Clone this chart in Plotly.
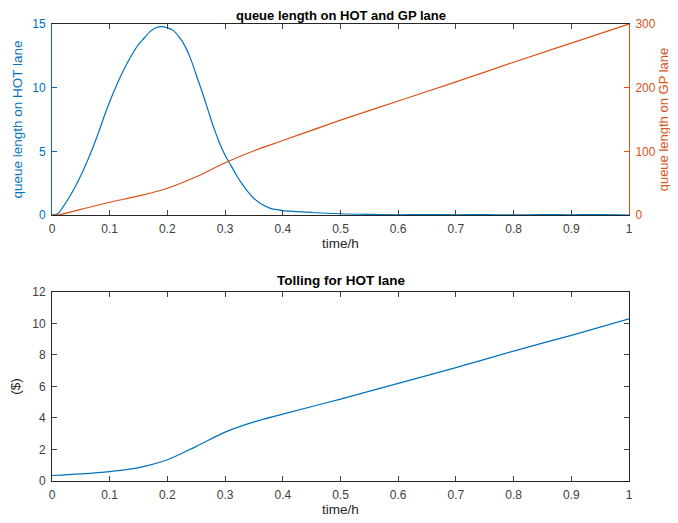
import plotly.graph_objects as go

t_hot = [0, 0.01, 0.02, 0.03, 0.04, 0.05, 0.06, 0.07, 0.08, 0.09, 0.10, 0.11, 0.12, 0.13, 0.14,
         0.15, 0.16, 0.17, 0.18, 0.19, 0.20, 0.21, 0.22, 0.23, 0.24, 0.25, 0.26, 0.27, 0.28,
         0.29, 0.30, 0.31, 0.32, 0.33, 0.34, 0.35, 0.36, 0.37, 0.38, 0.39, 0.40, 0.45, 0.50,
         0.55, 0.60, 0.65, 0.70, 0.75, 0.80, 0.85, 0.90, 0.95, 1.0]
q_hot = [0, 0.1, 0.7, 1.4, 2.2, 3.1, 4.1, 5.2, 6.4, 7.7, 8.9, 10.0, 11.0, 11.9, 12.7,
         13.4, 13.9, 14.4, 14.7, 14.8, 14.7, 14.5, 14.0, 13.3, 12.3, 11.0, 9.7, 8.3, 6.9,
         5.7, 4.7, 3.9, 3.1, 2.4, 1.8, 1.3, 0.95, 0.7, 0.5, 0.42, 0.35, 0.2, 0.1,
         0.05, 0.02, 0.04, 0.02, 0.03, 0.01, 0.03, 0.02, 0.03, 0.0]

t_gp = [0, 0.01, 0.05, 0.1, 0.15, 0.2, 0.25, 0.3, 0.35, 0.4, 0.45, 0.5, 0.6, 0.7, 0.8, 0.9, 1.0]
q_gp = [0, 0, 9, 20, 30, 42, 60, 82, 101, 117, 133, 149, 179, 209, 240, 270, 300]

t_toll = [0, 0.05, 0.1, 0.15, 0.2, 0.25, 0.3, 0.35, 0.4, 0.5, 0.6, 0.7, 0.8, 0.9, 1.0]
toll = [0.35, 0.45, 0.6, 0.85, 1.35, 2.2, 3.1, 3.75, 4.25, 5.2, 6.2, 7.2, 8.25, 9.25, 10.3]

x_ticks = [0, 0.1, 0.2, 0.3, 0.4, 0.5, 0.6, 0.7, 0.8, 0.9, 1]
x_labels = ["0", "0.1", "0.2", "0.3", "0.4", "0.5", "0.6", "0.7", "0.8", "0.9", "1"]

BLUE = "#0072BD"
ORANGE = "#D95319"
DARK = "#262626"
TICKC = "#404040"
FONT = "Liberation Sans, Arial, sans-serif"
TICKF = 12
LABF = 13.5

fig = go.Figure()
fig.add_trace(go.Scatter(x=t_hot, y=q_hot, mode="lines",
                         line=dict(color=BLUE, width=1.2, shape="spline", smoothing=1),
                         xaxis="x", yaxis="y", showlegend=False))
fig.add_trace(go.Scatter(x=t_gp, y=q_gp, mode="lines",
                         line=dict(color=ORANGE, width=1.2, shape="spline", smoothing=1),
                         xaxis="x", yaxis="y2", showlegend=False))
fig.add_trace(go.Scatter(x=t_toll, y=toll, mode="lines",
                         line=dict(color=BLUE, width=1.2, shape="spline", smoothing=1),
                         xaxis="x2", yaxis="y3", showlegend=False))

xcommon = dict(range=[0, 1], tickvals=x_ticks, ticktext=x_labels, ticks="inside", ticklen=5,
               showline=True, linecolor=DARK, linewidth=1, mirror="ticks", showgrid=False,
               zeroline=False, tickfont=dict(size=TICKF, color=TICKC), ticklabelstandoff=3,
               title=dict(text="time/h", font=dict(size=LABF, color=DARK), standoff=2))

fig.update_layout(
    width=678, height=523,
    paper_bgcolor="white", plot_bgcolor="white",
    font=dict(family=FONT, size=TICKF, color=DARK),
    margin=dict(l=44, r=57, t=16, b=50, autoexpand=False),
    xaxis=dict(xcommon, domain=[0, 1], anchor="y"),
    yaxis=dict(domain=[0.582, 1], range=[0, 15], tickvals=[0, 5, 10, 15], ticks="inside", ticklen=5,
               showline=True, linecolor=BLUE, linewidth=1, showgrid=False, zeroline=False,
               tickcolor=BLUE, tickfont=dict(size=TICKF, color=BLUE), ticklabelstandoff=3,
               title=dict(text="queue length on HOT lane", font=dict(size=LABF, color=BLUE), standoff=6)),
    yaxis2=dict(overlaying="y", side="right", anchor="x", range=[0, 300], tickvals=[0, 100, 200, 300],
                ticks="inside", ticklen=5, showline=True, linecolor=ORANGE, linewidth=1,
                showgrid=False, zeroline=False, tickcolor=ORANGE, ticklabelstandoff=3,
                tickfont=dict(size=TICKF, color=ORANGE),
                title=dict(text="queue length on GP lane", font=dict(size=13, color=ORANGE), standoff=4)),
    xaxis2=dict(xcommon, domain=[0, 1], anchor="y3"),
    yaxis3=dict(domain=[0, 0.4136], range=[0, 12], tickvals=[0, 2, 4, 6, 8, 10, 12], ticks="inside",
                ticklen=5, showline=True, linecolor=DARK, linewidth=1, mirror="ticks", showgrid=False,
                zeroline=False, tickfont=dict(size=TICKF, color=TICKC), ticklabelstandoff=3,
                title=dict(text="($)", font=dict(size=LABF, color=DARK), standoff=8)),
    annotations=[
        dict(text="<b>queue length on HOT and GP lane</b>", x=0.5, y=1, xref="paper", yref="paper",
             xanchor="center", yanchor="bottom", yshift=-1, showarrow=False,
             font=dict(size=13, color="black")),
        dict(text="<b>Tolling for HOT lane</b>", x=0.5, y=0.4136, xref="paper", yref="paper",
             xanchor="center", yanchor="bottom", yshift=2, showarrow=False,
             font=dict(size=13.5, color="black")),
    ],
)

fig.write_html("out.html")
